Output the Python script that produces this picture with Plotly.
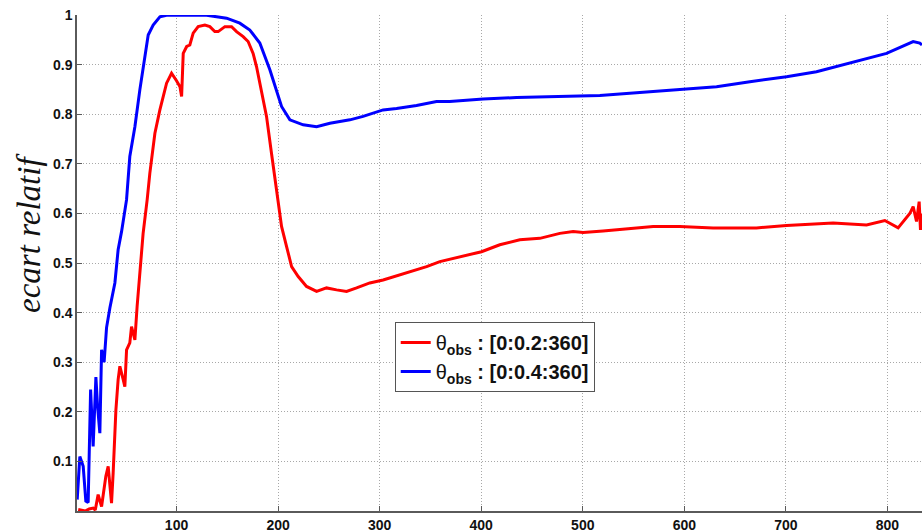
import plotly.graph_objects as go

# ---- data ----
blue_x = [2.2, 4.8, 8.1, 10.7, 13.0, 15.4, 17.9, 20.6, 22.3, 24.5, 26.2, 28.7, 31.1, 34.4,
          39.3, 42.5, 45.9, 50.8, 54.0, 59.0, 63.9, 67.1, 68.8, 72.1, 77.0, 83.6, 90.2,
          129.6, 149.3, 162.3, 172.2, 182.0, 191.9, 198.5, 203.4, 211.6, 224.7, 237.9,
          251.0, 270.7, 283.7, 303.4, 316.6, 336.3, 356.0, 369.0, 401.9, 434.8, 467.6,
          500.3, 516.8, 549.6, 582.5, 600.5, 631.7, 664.5, 700.6, 730.1, 762.9, 799.1,
          825.3, 831.8, 834.0]
blue_y = [0.023, 0.11, 0.09, 0.02, 0.017, 0.245, 0.13, 0.27, 0.21, 0.157, 0.325, 0.30, 0.37, 0.41,
          0.46, 0.527, 0.564, 0.628, 0.715, 0.775, 0.85, 0.896, 0.917, 0.96, 0.98, 0.997, 1.0,
          1.0, 0.994, 0.984, 0.97, 0.944, 0.89, 0.85, 0.816, 0.789, 0.779, 0.775,
          0.782, 0.789, 0.796, 0.809, 0.812, 0.818, 0.826, 0.826, 0.831, 0.834, 0.836,
          0.837, 0.838, 0.843, 0.848, 0.851, 0.856, 0.866, 0.876, 0.886, 0.903, 0.923,
          0.947, 0.944, 0.94]

red_x = [3.2, 10.0, 14.0, 17.9, 20.0, 22.8, 26.2, 30.4, 32.7, 36.0, 37.6, 40.3, 42.5, 44.2,
         47.5, 49.1, 50.8, 54.0, 55.7, 59.0, 61.2, 63.9, 67.1, 71.1, 73.7, 78.7, 83.6, 90.2,
         95.1, 100.0, 103.4, 105.0, 106.6, 110.0, 113.1, 116.4, 121.3, 127.9, 132.8, 137.7,
         141.0, 147.6, 154.2, 159.1, 165.6, 170.5, 175.4, 178.8, 183.7, 188.6, 193.6, 198.5,
         203.4, 208.3, 213.3, 219.8, 228.0, 237.9, 247.7, 257.6, 267.4, 277.3, 290.3, 303.4,
         316.6, 329.7, 346.2, 359.3, 379.0, 400.3, 418.3, 438.0, 457.7, 477.4, 490.5, 500.3,
         520.0, 543.1, 569.3, 595.5, 628.3, 671.0, 700.6, 746.5, 779.4, 797.4, 810.5, 822.0,
         825.3, 828.6, 831.2, 832.5, 834.0]
red_y = [0.003, 0.0, 0.004, 0.006, 0.002, 0.033, 0.009, 0.07, 0.09, 0.016, 0.077, 0.204, 0.265, 0.292,
         0.265, 0.251, 0.325, 0.339, 0.372, 0.345, 0.413, 0.48, 0.56, 0.628, 0.681, 0.762, 0.809, 0.863,
         0.883, 0.868, 0.856, 0.836, 0.923, 0.937, 0.94, 0.964, 0.977, 0.98, 0.977, 0.967,
         0.967, 0.977, 0.977, 0.967, 0.957, 0.947, 0.923, 0.896, 0.843, 0.796, 0.72, 0.641,
         0.574, 0.534, 0.493, 0.473, 0.453, 0.443, 0.45, 0.446, 0.443, 0.45, 0.46, 0.466,
         0.474, 0.483, 0.493, 0.503, 0.513, 0.523, 0.537, 0.547, 0.55, 0.56, 0.564, 0.562,
         0.565, 0.569, 0.574, 0.574, 0.571, 0.571, 0.576, 0.581, 0.577, 0.586, 0.571, 0.60,
         0.614, 0.584, 0.624, 0.567, 0.60]

series_names = ["θ<b><sub>obs</sub> : [0:0.2:360]</b>", "θ<b><sub>obs</sub> : [0:0.4:360]</b>"]
x_ticks = [100, 200, 300, 400, 500, 600, 700, 800]
y_ticks = [0.1, 0.2, 0.3, 0.4, 0.5, 0.6, 0.7, 0.8, 0.9, 1]
y_tick_text = ["0.1", "0.2", "0.3", "0.4", "0.5", "0.6", "0.7", "0.8", "0.9", "1"]
y_title = "ecart relatif"

fig = go.Figure()
fig.add_trace(go.Scatter(x=red_x, y=red_y, mode="lines", name=series_names[0],
                         line=dict(color="#ff0000", width=3)))
fig.add_trace(go.Scatter(x=blue_x, y=blue_y, mode="lines", name=series_names[1],
                         line=dict(color="#0000ff", width=3)))

axis_col = "#5a5a5a"
grid_col = "#a8a8a8"
tick_font = dict(family="Liberation Sans, Arial", size=14, color="#111")
fig.update_layout(
    width=922, height=532,
    margin=dict(l=77, r=0, t=15, b=21),
    paper_bgcolor="white", plot_bgcolor="white",
    font=dict(family="Liberation Sans, Arial", size=14, color="#111"),
    showlegend=True,
    legend=dict(x=0.376, y=0.381, xanchor="left", yanchor="top",
                bgcolor="white", bordercolor="#555", borderwidth=1,
                font=dict(family="Liberation Sans, Arial", size=20, color="#111"),
                tracegroupgap=0, itemwidth=30),
    xaxis=dict(range=[2, 834], tickvals=x_ticks, ticktext=[f"<b>{t}</b>" for t in x_ticks],
               ticks="inside", ticklen=5,
               tickcolor=axis_col, showline=True, linecolor=axis_col, linewidth=1.5,
               showgrid=True, gridcolor=grid_col, griddash="1px,2px", gridwidth=1,
               zeroline=False, tickfont=tick_font),
    yaxis=dict(range=[0, 1.0005], tickvals=y_ticks, ticktext=[f"<b>{t}</b>" for t in y_tick_text],
               ticks="inside", ticklen=5,
               tickcolor=axis_col, showline=True, linecolor=axis_col, linewidth=1.5,
               showgrid=True, gridcolor=grid_col, griddash="1px,2px", gridwidth=1,
               zeroline=False, tickfont=tick_font),
)

fig.add_annotation(text="<i>" + y_title + "</i>", xref="paper", yref="paper", x=-0.056, y=0.56,
                   xanchor="center", yanchor="middle", textangle=-90, showarrow=False,
                   font=dict(family="Liberation Serif, Times New Roman", size=33, color="#111"))

fig.write_html("out.html", config={"displayModeBar": False},
               post_script="document.body.style.margin='0px';document.body.style.overflow='hidden';")
